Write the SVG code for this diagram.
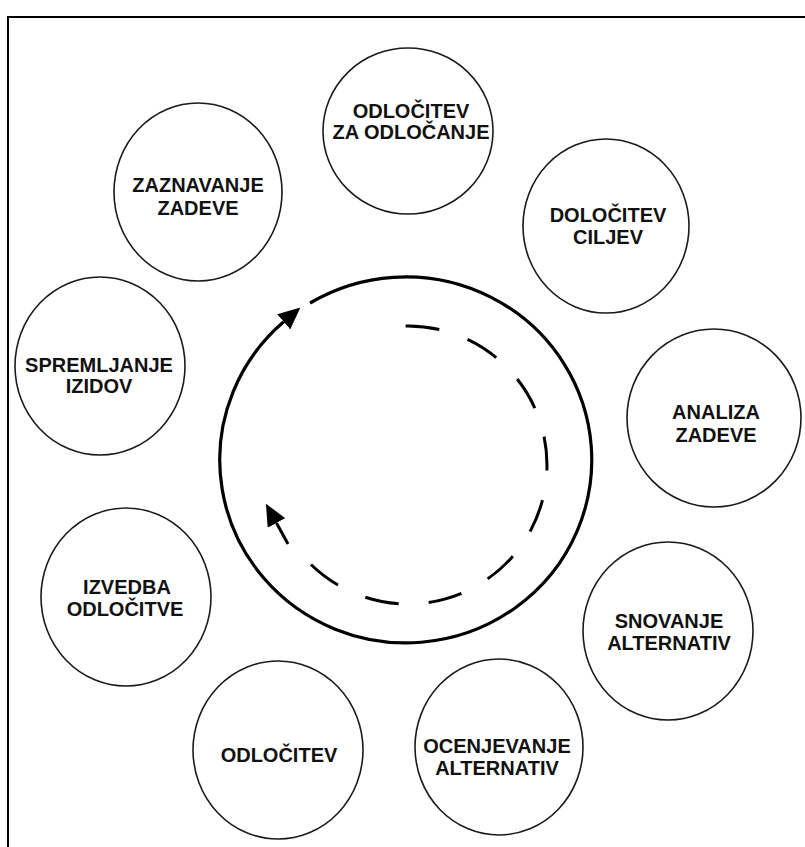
<svg xmlns="http://www.w3.org/2000/svg" width="805" height="847" viewBox="0 0 805 847">
  <style>
    .node { fill: #fff; stroke: #1a1a1a; stroke-width: 1.6; }
    .label { font-family: "Liberation Sans", Arial, sans-serif; font-weight: bold; font-size: 20px; fill: #111; text-anchor: middle; }
    .cycle { fill: none; stroke: #000; stroke-width: 3.2; }
    .dash { fill: none; stroke: #000; stroke-width: 3; stroke-dasharray: 34 30; }
    .frame { stroke: #000; stroke-width: 2; fill: none; }
  </style>
  <defs>
    <marker id="head" markerUnits="userSpaceOnUse" markerWidth="22" markerHeight="20" refX="0" refY="10" orient="auto">
      <path d="M0,0 L22,10 L0,20 z" fill="#000"/>
    </marker>
  </defs>

  <rect width="805" height="847" fill="#fff"/>
  <!-- frame: left and top edges -->
  <path class="frame" d="M8,847 V17 H805"/>

  <!-- connectors: the central cycle -->
  <g id="connectors">
    <path class="cycle" d="M310,303 A186,183 0 1 1 283.7,321.8" marker-end="url(#head)"/>
    <path class="dash" d="M405.6,326 A139,139 0 1 1 292.2,541.9"/>
    <path class="cycle" style="stroke-width:3" d="M288,544 L276.5,523" marker-end="url(#head)"/>
  </g>

  <g id="odlocitev-za-odlocanje">
    <ellipse class="node" cx="408" cy="131" rx="85" ry="83"/>
    <text class="label" x="411" y="118">ODLOČITEV</text>
    <text class="label" x="411" y="139">ZA ODLOČANJE</text>
  </g>
  <g id="dolocitev-ciljev">
    <ellipse class="node" cx="606" cy="226" rx="83" ry="87"/>
    <text class="label" x="608" y="222">DOLOČITEV</text>
    <text class="label" x="608" y="244">CILJEV</text>
  </g>
  <g id="analiza-zadeve">
    <ellipse class="node" cx="714" cy="418" rx="87" ry="89"/>
    <text class="label" x="716" y="419">ANALIZA</text>
    <text class="label" x="716" y="442">ZADEVE</text>
  </g>
  <g id="snovanje-alternativ">
    <ellipse class="node" cx="668" cy="631" rx="85" ry="89"/>
    <text class="label" x="669" y="628">SNOVANJE</text>
    <text class="label" x="669" y="650">ALTERNATIV</text>
  </g>
  <g id="ocenjevanje-alternativ">
    <ellipse class="node" cx="499" cy="747" rx="84" ry="88"/>
    <text class="label" x="497" y="753">OCENJEVANJE</text>
    <text class="label" x="497" y="775">ALTERNATIV</text>
  </g>
  <g id="odlocitev">
    <ellipse class="node" cx="278" cy="750" rx="85" ry="89"/>
    <text class="label" x="279" y="762">ODLOČITEV</text>
  </g>
  <g id="izvedba-odlocitve">
    <ellipse class="node" cx="126" cy="597" rx="85" ry="89"/>
    <text class="label" x="127" y="594">IZVEDBA</text>
    <text class="label" x="125" y="616">ODLOČITVE</text>
  </g>
  <g id="spremljanje-izidov">
    <ellipse class="node" cx="100" cy="366" rx="85" ry="89"/>
    <text class="label" x="99" y="372">SPREMLJANJE</text>
    <text class="label" x="99" y="393">IZIDOV</text>
  </g>
  <g id="zaznavanje-zadeve">
    <ellipse class="node" cx="198" cy="192" rx="84" ry="89"/>
    <text class="label" x="198" y="192">ZAZNAVANJE</text>
    <text class="label" x="198" y="215">ZADEVE</text>
  </g>
</svg>
